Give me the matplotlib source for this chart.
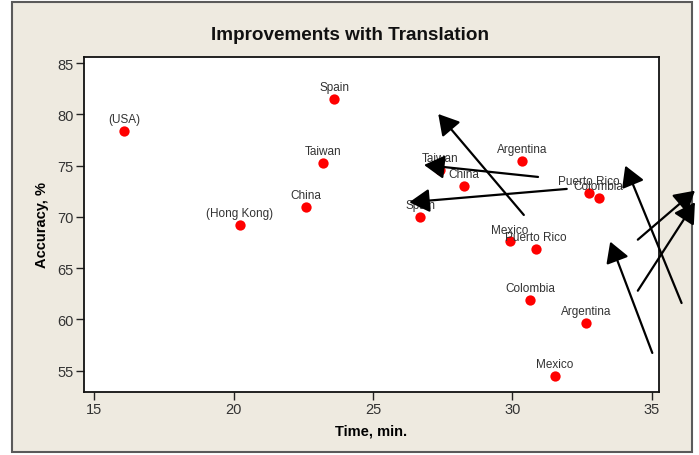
import matplotlib.pyplot as plt
from matplotlib.patches import Rectangle

plt.rcParams['font.family'] = ['Liberation Sans', 'DejaVu Sans']

# point labels, time (min) and accuracy (%)
countries = ['(USA)', '(Hong Kong)', 'China', 'Taiwan', 'Spain',
             'Spain', 'China', 'Taiwan', 'Argentina', 'Puerto Rico', 'Colombia',
             'Mexico', 'Puerto Rico', 'Colombia', 'Argentina', 'Mexico']
time_min = [16.06, 20.21, 22.58, 23.22, 23.60,
            26.70, 28.26, 27.40, 30.34, 32.75, 33.09,
            29.92, 30.85, 30.63, 32.63, 31.53]
accuracy = [78.41, 69.24, 71.00, 75.26, 81.50,
            69.97, 72.99, 74.60, 75.49, 72.34, 71.82,
            67.62, 66.87, 61.87, 59.68, 54.48]

# overlaid arrows: (start x, start y) -> (tip x, tip y), in data units
arrow_start = [(30.41, 70.19), (30.92, 73.90), (31.95, 72.73),
               (36.07, 61.60), (35.02, 56.73), (34.50, 67.78), (34.50, 62.80)]
arrow_tip = [(27.34, 80.04), (26.83, 75.07), (26.30, 71.43),
             (34.05, 75.00), (33.51, 67.59), (36.55, 72.56), (36.55, 71.43)]

fig = plt.figure(figsize=(6.99, 4.56), dpi=100)
fig.patch.set_facecolor('white')

# beige panel behind the chart
panel = Rectangle((12 / 699, 3 / 456), 680 / 699, 450 / 456, transform=fig.transFigure,
                  facecolor='#EEEAE0', edgecolor='#5a5a5a', linewidth=1.5, zorder=-5)
fig.patches.append(panel)

ax = fig.add_axes([84 / 699, 63 / 456, 575 / 699, 335 / 456])
ax.set_zorder(2)
ax.set_facecolor('white')

ax.scatter(time_min, accuracy, s=55, color='#ff0000', zorder=3, linewidths=0)
for name, x, y in zip(countries, time_min, accuracy):
    ax.annotate(name, (x, y), xytext=(0, 8.5), textcoords='offset points',
                ha='center', va='center', fontsize=8.5, color='#333333', zorder=4)

for (x0, y0), (x1, y1) in zip(arrow_start, arrow_tip):
    ax.annotate('', xy=(x1, y1), xytext=(x0, y0), annotation_clip=False,
                arrowprops=dict(arrowstyle='-|>,head_length=0.62,head_width=0.36',
                                mutation_scale=20, lw=1.6, color='black',
                                shrinkA=0, shrinkB=0), zorder=6)

ax.set_xlim(14.63, 35.26)
ax.set_ylim(52.92, 85.6)
ax.set_xticks([15, 20, 25, 30, 35])
ax.set_yticks([55, 60, 65, 70, 75, 80, 85])
ax.tick_params(direction='out', length=5.8, width=1, pad=1.5, colors='#222222',
               labelsize=10.5, labelcolor='#333333')
for s in ax.spines.values():
    s.set_linewidth(1.3)
    s.set_color('#111111')

ax.set_xlabel('Time, min.', fontsize=10.5, fontweight='bold', labelpad=5)
ax.set_ylabel('Accuracy, %', fontsize=10.5, fontweight='bold', labelpad=6)
fig.text(350 / 699, 1 - 35 / 456, 'Improvements with Translation', ha='center', va='center',
         fontsize=13.6, fontweight='bold', color='#111111')

fig.savefig('out.png', dpi=100)
